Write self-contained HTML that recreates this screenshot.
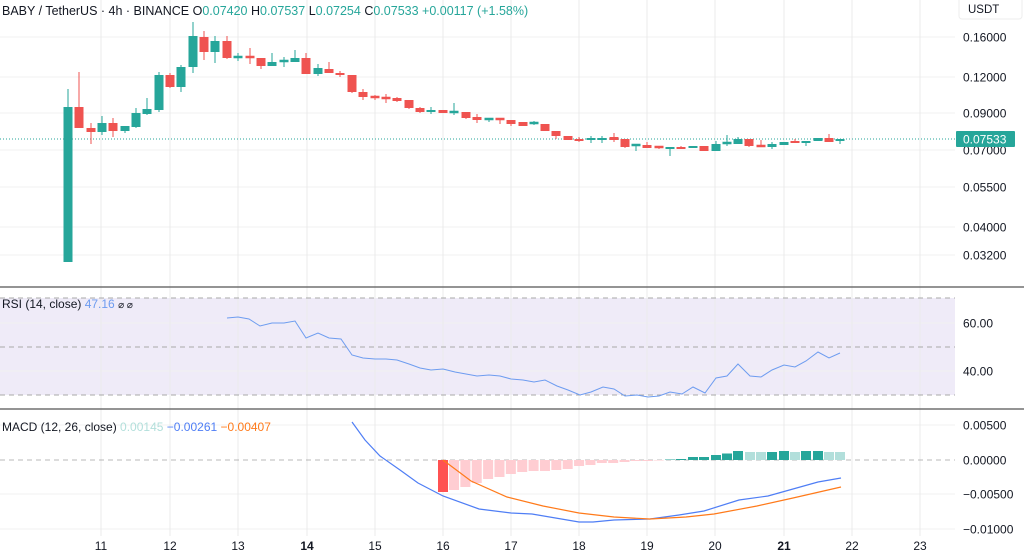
<!DOCTYPE html>
<html><head><meta charset="utf-8"><style>
html,body{margin:0;padding:0;background:#fff;}
svg{display:block;font-family:"Liberation Sans",sans-serif;}
</style></head><body>
<svg id="s" width="1024" height="554" viewBox="0 0 1024 554" xmlns="http://www.w3.org/2000/svg"></svg>
<script>
var s=document.getElementById('s'),h='';
var G='#26a69a',R='#ef5350';
var days=[[101,'11'],[170,'12'],[238,'13'],[307,'14',1],[375,'15'],[443,'16'],[511,'17'],[579,'18'],[647,'19'],[715,'20'],[784,'21',1],[852,'22'],[920,'23']];
// RSI band
h+='<rect x="0" y="298" width="955" height="97" fill="#efebf8"/>';
// horizontal grid
[37,77,113,150,187,227,255,323,371,425,494,529].forEach(function(y){h+='<line x1="0" x2="955" y1="'+y+'" y2="'+y+'" stroke="#f0f0f0"/>';});
days.forEach(function(d){h+='<line x1="'+d[0]+'" x2="'+d[0]+'" y1="0" y2="536" stroke="#ebebeb"/>';});
[298,347,395].forEach(function(y){h+='<line x1="0" x2="955" y1="'+y+'" y2="'+y+'" stroke="#a8a8a8" stroke-dasharray="5,4"/>';});
h+='<line x1="0" x2="955" y1="460" y2="460" stroke="#b8b8b8" stroke-dasharray="5,4"/>';
// current price line
h+='<line x1="0" x2="955" y1="139" y2="139" stroke="#26a69a" stroke-dasharray="1,2"/>';
// candles: x, open, close, high, low (pixel y)
var c=[[68,262,107,89,262],[79,107,128,72,128],[91,128,132,123,144],[102,132,123,116,135],[113,123,131,118,137],[125,131,126,126,133],[136,127,113,108,128],[147,114,109,98,115],[159,110,75,72,112],[170,75,87,73,88],[181,87,67,65,92],[193,67,36,22,73],[204,37,52,31,60],[215,52,41,36,63],[227,41,58,36,59],[238,57.5,56.5,53,61],[250,56.5,57.5,48,64],[261,58,66,58,69],[272,66,62,53,66],[284,61.5,60.5,57,67],[295,62,58,50,62],[306,58,74,53,74],[318,74,68,64,76],[329,69,73,62,73],[340,73,75,71,77],[352,75,92,75,93],[363,92,97,89,100],[375,96.5,97.5,95,100],[386,97.5,98.5,94,103],[397,98,101,97,102],[409,100,108,100,109],[420,108,112,107,113],[431,112,110,107,114],[443,110,113,110,113],[454,112.5,111.5,103,115],[466,112,118,112,119],[477,117,120,114,123],[489,119.5,118.5,118,122],[500,118.5,119.5,118,124],[511,120,124,120,126],[523,122,126,122,126],[534,123.5,122.5,121,125],[545,124,131,124,131],[556,131,136,131,139],[568,136,140,136,140],[579,139,141,137,142],[591,140,138,136,143],[602,140,138,136,143],[614,137,140,133,142],[625,139,147,139,148],[636,145.5,144.5,144,151],[647,145,148,142,148],[659,146.5,147.5,146,149],[670,149,147,147,156],[681,147,149,146,149],[693,148,146,146,148],[704,146,151,146,151],[716,151,144,141,151],[727,143.5,142.5,135,146],[738,144,139,137,144],[749,139,146,139,147],[761,145.5,146.5,140,146.5],[772,147,144,142,149],[784,145,142,142,145],[795,141,143,139,143],[806,143,141,141,146],[818,141,138,138,141],[829,138,142,134,142],[840,141,139,139,144]];
c.forEach(function(k){var up=k[2]<k[1],col=up?G:R,t=Math.min(k[1],k[2]),b=Math.max(k[1],k[2]);if(b-t<1.5){t-=0.75;b+=0.75;}
h+='<line x1="'+k[0]+'" x2="'+k[0]+'" y1="'+k[3]+'" y2="'+k[4]+'" stroke="'+col+'"/>';
h+='<rect x="'+(k[0]-4.5)+'" y="'+t+'" width="9" height="'+(b-t)+'" fill="'+col+'"/>';});
// RSI line
var r=[[227,318],[238,317],[249,319],[260,326],[272,323],[284,323],[295,321],[306,338],[318,333],[329,338],[341,339],[352,355],[363,358],[375,359],[386,359],[397,360],[409,364],[420,368],[431,370],[443,369],[455,372],[466,374],[477,376],[489,375],[500,376],[511,379],[523,380],[534,382],[545,380],[557,386],[568,390],[580,395],[591,392],[603,387],[614,389],[625,396],[637,395],[648,397],[659,396],[670,392],[682,394],[693,387],[705,393],[716,378],[727,376],[738,364],[750,376],[761,377],[772,370],[784,365],[795,367],[806,361],[818,352],[829,358],[840,353]];
h+='<polyline fill="none" stroke="#6d9cf0" stroke-width="1" points="'+r.map(function(p){return p.join(',')}).join(' ')+'"/>';
// MACD histogram
h+='<rect x="438" y="460" width="10" height="32" fill="#ff5252"/>';
var pk=[490,487,483,479,477,474,472,471,471,470,469,466,465,463,463,462,461,461,460.5];
pk.forEach(function(y,i){var x=454+i*11.37;h+='<rect x="'+(x-5)+'" y="460" width="10" height="'+(y-460)+'" fill="#ffcdd2"/>';});
var gr=[[670,459.5,1],[681,459,1],[693,457,1],[704,457,1],[716,455,1],[727,453.5,1],[738,451,1],[750,452,0],[761,452,0],[772,452,1],[784,451,1],[795,452,0],[806,451,1],[818,451,1],[829,452,0],[840,452,0]];
gr.forEach(function(g){h+='<rect x="'+(g[0]-5)+'" y="'+g[1]+'" width="10" height="'+(460-g[1])+'" fill="'+(g[2]?'#26a69a':'#b2dfdb')+'"/>';});
var bl=[[352,422],[365,440],[380,456],[400,470],[418,483],[443,496],[479,509],[511,513],[532,514],[579,522],[593,522],[614,520],[650,519],[679,515],[704,511],[739,500],[768,496],[793,489],[818,482],[841,478]];
var og=[[443,460],[471,481],[507,497],[543,506],[579,513],[614,517],[650,519],[686,517],[714,514],[757,506],[793,498],[841,487]];
h+='<polyline fill="none" stroke="#4f7ef5" stroke-width="1.2" points="'+bl.map(function(p){return p.join(',')}).join(' ')+'"/>';
h+='<polyline fill="none" stroke="#ff7a1a" stroke-width="1.2" points="'+og.map(function(p){return p.join(',')}).join(' ')+'"/>';
// separators
h+='<line x1="0" x2="1024" y1="287" y2="287" stroke="#555" stroke-width="1.2"/>';
h+='<line x1="0" x2="1024" y1="409" y2="409" stroke="#555" stroke-width="1.2"/>';
// right axis
var ax=[[37,'0.16000'],[77,'0.12000'],[113,'0.09000'],[150,'0.07000'],[187,'0.05500'],[227,'0.04000'],[255,'0.03200'],[323,'60.00'],[371,'40.00'],[425,'0.00500'],[460,'0.00000'],[494,'\u22120.00500'],[529,'\u22120.01000']];
ax.forEach(function(a){h+='<text x="963" y="'+(a[0]+4.5)+'" font-size="12" fill="#131722">'+a[1]+'</text>';});
h+='<rect x="956" y="131" width="59" height="16" rx="1" fill="#26a69a"/><text x="963" y="143.5" font-size="12" fill="#fff">0.07533</text>';
h+='<rect x="959" y="-3" width="63" height="22" rx="3" fill="#fff" stroke="#eee"/><text x="968" y="13" font-size="11.5" fill="#131722">USDT</text>';
// dates
days.forEach(function(d){h+='<text x="'+d[0]+'" y="550" text-anchor="middle" font-size="12" '+(d[2]?'font-weight="bold" ':'')+'fill="#131722">'+d[1]+'</text>';});
// headers
h+='<text x="2" y="15" font-size="12.5" fill="#131722">BABY / TetherUS · 4h · BINANCE  <tspan fill="#131722">O</tspan><tspan fill="#26a69a">0.07420</tspan>  <tspan fill="#131722">H</tspan><tspan fill="#26a69a">0.07537</tspan>  <tspan fill="#131722">L</tspan><tspan fill="#26a69a">0.07254</tspan>  <tspan fill="#131722">C</tspan><tspan fill="#26a69a">0.07533</tspan>  <tspan fill="#26a69a">+0.00117 (+1.58%)</tspan></text>';
h+='<text x="2" y="308" font-size="12" fill="#131722">RSI (14, close)  <tspan fill="#6d9cf0">47.16</tspan>  <tspan font-size="10">⌀  ⌀</tspan></text>';
h+='<text x="2" y="431" font-size="12" fill="#131722">MACD (12, 26, close)  <tspan fill="#b2dfdb">0.00145</tspan>  <tspan fill="#4f7ef5">\u22120.00261</tspan>  <tspan fill="#ff7a1a">\u22120.00407</tspan></text>';
s.innerHTML=h;
</script>
</body></html>
